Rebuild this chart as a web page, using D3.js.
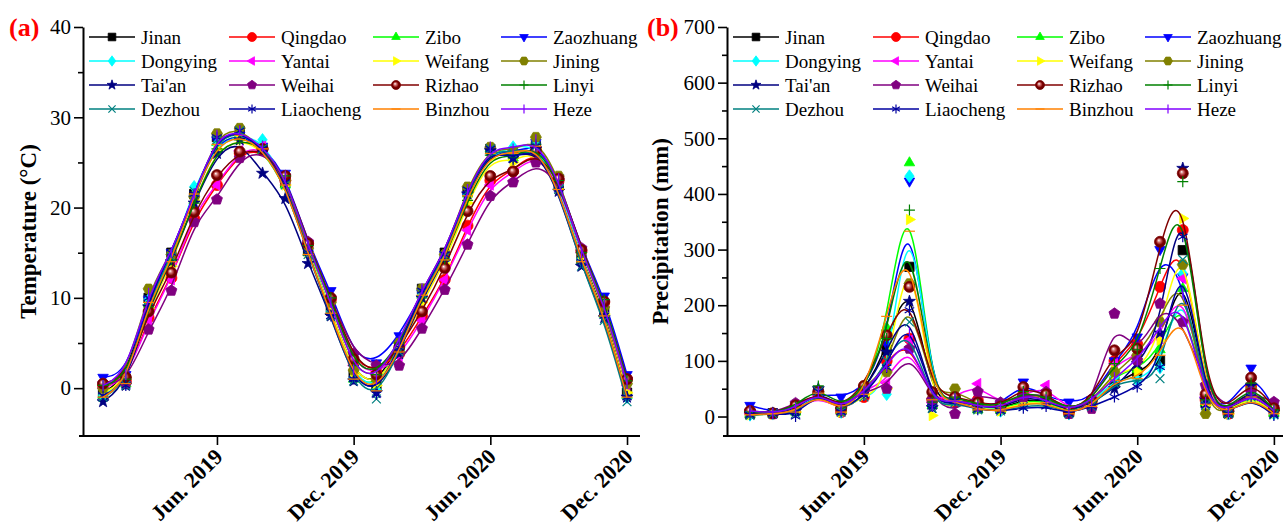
<!DOCTYPE html>
<html>
<head>
<meta charset="utf-8">
<script src="https://cdn.jsdelivr.net/npm/d3@7"></script>
<style>
  body { margin: 0; background: #fff; }
  svg { font-family: "Liberation Serif", "Times New Roman", serif; }
</style>
</head>
<body>
<svg id="chart" width="1287" height="528"></svg>
<script>
// ---- data ----
const cities = ["Jinan", "Qingdao", "Zibo", "Zaozhuang", "Dongying", "Yantai", "Weifang", "Jining",
                "Tai'an", "Weihai", "Rizhao", "Linyi", "Dezhou", "Liaocheng", "Binzhou", "Heze"];
const colors = ["#000000", "#ff0000", "#00ff00", "#0000ff", "#00ffff", "#ff00ff", "#ffff00", "#808000",
                "#000080", "#800080", "#800000", "#008000", "#008080", "#0000a0", "#ff8000", "#8000ff"];
const symbols = ["square", "circle", "triUp", "triDown", "diamond", "triLeft", "triRight", "hexagon",
                 "star", "pentagon", "sphere", "plus", "cross", "asterisk", "hbar", "vbar"];

// month index: 1 = Jan 2019 ... 24 = Dec 2020
const months = [1, 2, 3, 4, 5, 6, 7, 8, 9, 10, 11, 12, 13, 14, 15, 16, 17, 18, 19, 20, 21, 22, 23, 24];
const xTickValues = [6, 12, 18, 24];
const xTickLabels = ["Jun. 2019", "Dec. 2019", "Jun. 2020", "Dec. 2020"];

// temperature (°C)
const tJinan     = [-0.5, 1.0, 10.0, 15.0, 21.5, 27.8, 28.5, 26.5, 22.8, 15.2, 8.6, 1.5, 0.3, 4.8, 11.0, 15.0, 21.8, 26.5, 26.0, 26.8, 22.5, 14.3, 8.5, -0.5];
const tQingdao   = [0.3, 0.8, 7.8, 12.2, 18.8, 22.5, 26.0, 26.5, 23.0, 16.0, 9.8, 2.8, 1.8, 3.8, 8.0, 12.0, 18.0, 23.0, 24.0, 26.5, 23.0, 15.2, 9.5, 1.0];
const tZibo      = [-0.8, 0.5, 9.5, 14.5, 21.5, 27.2, 28.2, 26.3, 22.5, 15.0, 8.5, 1.0, 0.0, 4.5, 10.5, 14.5, 21.5, 26.5, 25.5, 26.8, 22.3, 14.0, 8.2, -0.8];
const tZaozhuang = [1.2, 1.5, 9.8, 15.0, 21.0, 27.5, 28.0, 26.8, 23.8, 16.0, 10.8, 3.5, 2.8, 5.8, 10.5, 14.8, 21.2, 26.3, 26.0, 27.2, 23.3, 15.3, 10.2, 1.5];
const tDongying  = [-0.8, 0.5, 9.8, 14.3, 22.3, 27.0, 28.0, 27.5, 22.8, 15.3, 8.5, 1.2, -0.2, 4.0, 10.5, 14.5, 21.5, 26.0, 26.7, 27.0, 22.5, 14.3, 8.0, -1.0];
const tYantai    = [0.0, 0.8, 7.5, 12.0, 19.5, 22.5, 26.3, 26.8, 23.0, 16.0, 9.8, 2.5, 1.5, 3.5, 7.5, 12.0, 17.5, 22.5, 23.8, 26.0, 22.8, 15.0, 9.0, 0.3];
const tWeifang   = [-0.5, 0.6, 8.8, 13.5, 20.8, 26.5, 27.5, 26.5, 22.5, 15.0, 8.6, 1.5, 0.3, 4.0, 9.5, 13.8, 20.5, 25.5, 25.0, 26.5, 22.0, 14.2, 8.2, -0.5];
const tJining    = [0.0, 1.2, 11.0, 14.8, 21.2, 28.2, 28.8, 26.5, 23.0, 15.5, 9.5, 2.0, 1.0, 5.0, 11.0, 14.8, 22.3, 26.7, 26.2, 27.8, 23.5, 15.0, 9.0, 0.5];
const tTaian     = [-1.5, 0.3, 9.0, 14.0, 20.5, 26.0, 27.5, 23.8, 21.0, 13.8, 8.0, 0.8, -0.5, 3.8, 10.0, 14.0, 21.5, 26.3, 25.5, 26.5, 21.8, 13.5, 7.8, -1.0];
const tWeihai    = [0.5, 0.5, 6.5, 10.8, 18.4, 20.9, 25.5, 26.3, 23.5, 16.2, 10.0, 3.8, 2.5, 2.5, 6.6, 10.9, 15.9, 21.3, 22.8, 25.0, 23.0, 15.5, 9.5, 1.0];
const tRizhao    = [0.5, 1.2, 8.5, 12.8, 19.5, 23.6, 26.2, 26.5, 23.5, 16.0, 10.0, 3.2, 1.5, 4.5, 8.5, 13.3, 19.6, 23.5, 24.0, 26.3, 23.2, 15.3, 9.6, 1.0];
const tLinyi     = [0.3, 1.0, 9.0, 14.2, 20.5, 26.5, 27.5, 26.8, 23.5, 15.8, 10.0, 2.5, 1.5, 5.0, 10.0, 14.3, 20.8, 25.8, 25.5, 27.0, 23.0, 15.0, 9.8, 0.8];
const tDezhou    = [-1.0, 0.3, 9.8, 14.5, 21.8, 27.5, 28.5, 26.5, 22.5, 14.8, 8.0, 0.8, -1.2, 4.0, 10.5, 14.5, 21.8, 26.5, 26.0, 26.8, 22.0, 13.5, 7.5, -1.5];
const tLiaocheng = [-0.8, 0.3, 10.0, 15.0, 21.5, 27.8, 28.5, 26.5, 22.8, 15.0, 8.0, 1.0, -0.7, 4.5, 10.8, 14.8, 22.0, 26.5, 25.3, 26.8, 22.0, 14.0, 8.0, -1.0];
const tBinzhou   = [-1.0, 0.5, 9.5, 14.0, 21.5, 27.0, 28.0, 26.5, 22.5, 14.8, 8.3, 1.0, -0.3, 4.0, 10.3, 14.2, 21.3, 26.0, 26.0, 26.8, 22.0, 14.0, 8.0, -1.0];
const tHeze      = [0.3, 1.5, 10.5, 15.0, 21.5, 28.0, 28.5, 26.8, 23.5, 15.8, 9.5, 2.0, 1.0, 5.2, 11.0, 15.0, 22.0, 26.7, 26.5, 27.5, 23.2, 15.0, 9.3, 0.5];

// precipitation (mm)
const pJinan     = [5, 6, 12, 45, 12, 45, 120, 269, 22, 32, 15, 14, 30, 30, 8, 22, 60, 80, 100, 299, 25, 6, 45, 8];
const pQingdao   = [8, 5, 15, 40, 8, 35, 100, 140, 30, 25, 30, 12, 40, 38, 6, 28, 100, 130, 233, 335, 30, 5, 55, 12];
const pZibo      = [4, 6, 8, 48, 10, 42, 160, 456, 20, 35, 12, 12, 28, 28, 6, 22, 75, 85, 120, 230, 25, 6, 40, 6];
const pZaozhuang = [20, 8, 15, 42, 35, 50, 130, 423, 26, 30, 20, 20, 62, 35, 26, 30, 100, 143, 300, 251, 30, 10, 87, 15];
const pDongying  = [3, 5, 10, 45, 8, 40, 40, 432, 20, 30, 18, 10, 22, 25, 5, 20, 70, 65, 88, 257, 25, 5, 35, 5];
const pYantai    = [6, 5, 12, 38, 10, 50, 60, 137, 25, 35, 59, 20, 38, 56, 8, 30, 95, 110, 140, 248, 35, 8, 45, 10];
const pWeifang   = [3, 4, 8, 42, 8, 38, 50, 354, 2, 28, 15, 10, 25, 25, 5, 20, 83, 80, 137, 356, 20, 5, 40, 6];
const pJining    = [8, 6, 18, 45, 10, 55, 80, 239, 32, 50, 20, 15, 40, 32, 10, 25, 80, 110, 170, 273, 5, 8, 50, 10];
const pTaian     = [5, 6, 10, 50, 12, 45, 116, 207, 16, 30, 18, 15, 35, 30, 8, 25, 50, 95, 150, 446, 30, 6, 55, 8];
const pWeihai    = [10, 5, 24, 40, 12, 48, 50, 122, 30, 5, 45, 25, 35, 44, 5, 14, 185, 101, 203, 170, 56, 10, 45, 26];
const pRizhao    = [10, 6, 20, 45, 15, 55, 146, 233, 44, 35, 25, 18, 53, 40, 10, 30, 119, 122, 314, 437, 40, 10, 70, 15];
const pLinyi     = [8, 6, 18, 55, 15, 50, 140, 371, 26, 35, 22, 18, 45, 35, 12, 28, 95, 120, 266, 422, 30, 8, 60, 12];
const pDezhou    = [2, 5, 5, 45, 8, 35, 100, 170, 15, 25, 12, 10, 18, 22, 5, 18, 60, 65, 68, 282, 20, 5, 35, 3];
const pLiaocheng = [3, 6, 0, 45, 8, 38, 88, 191, 18, 28, 12, 10, 15, 18, 5, 18, 35, 53, 89, 323, 20, 5, 35, 2];
const pBinzhou   = [3, 5, 8, 42, 8, 40, 180, 333, 30, 28, 12, 10, 22, 25, 5, 18, 65, 68, 110, 200, 22, 5, 35, 5];
const pHeze      = [10, 6, 15, 45, 12, 45, 90, 150, 20, 32, 18, 15, 40, 30, 10, 28, 70, 100, 160, 220, 25, 8, 45, 10];

const tempSeries = [tJinan, tQingdao, tZibo, tZaozhuang, tDongying, tYantai, tWeifang, tJining,
                    tTaian, tWeihai, tRizhao, tLinyi, tDezhou, tLiaocheng, tBinzhou, tHeze];
const precSeries = [pJinan, pQingdao, pZibo, pZaozhuang, pDongying, pYantai, pWeifang, pJining,
                    pTaian, pWeihai, pRizhao, pLinyi, pDezhou, pLiaocheng, pBinzhou, pHeze];

// ---- drawing ----
const svg = d3.select("#chart");

const defs = svg.append("defs");
const grad = defs.append("radialGradient").attr("id", "sphere")
  .attr("cx", "50%").attr("cy", "50%").attr("r", "50%").attr("fx", "38%").attr("fy", "35%");
grad.append("stop").attr("offset", "0%").attr("stop-color", "#ffffff");
grad.append("stop").attr("offset", "30%").attr("stop-color", "#d07070");
grad.append("stop").attr("offset", "65%").attr("stop-color", "#800000");
grad.append("stop").attr("offset", "100%").attr("stop-color", "#5a0000");

function poly(n, r, rot) {
  const pts = [];
  for (let i = 0; i < n; i++) {
    const a = rot + i * 2 * Math.PI / n;
    pts.push([r * Math.cos(a), r * Math.sin(a)]);
  }
  return "M" + pts.map(p => p.join(",")).join("L") + "Z";
}

function markerPath(type, r) {
  switch (type) {
    case "square": { const s = r * 0.85; return `M${-s},${-s}H${s}V${s}H${-s}Z`; }
    case "circle":
    case "sphere": return `M${r},0A${r},${r} 0 1,1 ${-r},0A${r},${r} 0 1,1 ${r},0Z`;
    case "triUp": return poly(3, r * 1.1, -Math.PI / 2);
    case "triDown": return poly(3, r * 1.1, Math.PI / 2);
    case "triLeft": return poly(3, r * 1.1, Math.PI);
    case "triRight": return poly(3, r * 1.1, 0);
    case "diamond": return `M0,${-r * 1.15}L${r * 0.85},0L0,${r * 1.15}L${-r * 0.85},0Z`;
    case "hexagon": return poly(6, r, 0);
    case "pentagon": return poly(5, r * 1.05, -Math.PI / 2);
    case "star": {
      const pts = [];
      for (let i = 0; i < 10; i++) {
        const rr = i % 2 ? r * 0.45 : r * 1.15;
        const a = -Math.PI / 2 + i * Math.PI / 5;
        pts.push([rr * Math.cos(a), rr * Math.sin(a)]);
      }
      return "M" + pts.map(p => p.join(",")).join("L") + "Z";
    }
    case "plus": return `M${-r},0H${r}M0,${-r}V${r}`;
    case "cross": { const s = r * 0.8; return `M${-s},${-s}L${s},${s}M${-s},${s}L${s},${-s}`; }
    case "asterisk": {
      const c = r * Math.cos(Math.PI / 6), s = r * Math.sin(Math.PI / 6);
      return `M0,${-r}V${r}M${-c},${-s}L${c},${s}M${-c},${s}L${c},${-s}`;
    }
    case "hbar": return `M${-r},0H${r}`;
    case "vbar": return `M0,${-r}V${r}`;
  }
}
const strokeOnly = new Set(["plus", "cross", "asterisk", "hbar", "vbar"]);

function drawMarker(g, type, color, r) {
  const p = g.append("path").attr("d", markerPath(type, r));
  if (strokeOnly.has(type)) {
    p.attr("fill", "none").attr("stroke", color).attr("stroke-width", 1.2);
  } else if (type === "sphere") {
    p.attr("fill", "url(#sphere)").attr("stroke", color).attr("stroke-width", 0.8);
  } else {
    p.attr("fill", color).attr("stroke", color).attr("stroke-width", 0.8);
  }
  return p;
}

const axisY = 436, axisTop = 27;

function drawPanel(cfg) {
  const x = d3.scaleLinear().domain(cfg.xDomain).range([cfg.x0, cfg.x1]);
  const y = d3.scaleLinear().domain(cfg.yDomain).range([axisY, axisTop]);
  const g = svg.append("g");

  // series
  const line = d3.line().x((d, i) => x(months[i])).y(d => y(d)).curve(d3.curveBasis);
  cfg.series.forEach((vals, k) => {
    g.append("path").attr("d", line(vals))
      .attr("fill", "none").attr("stroke", colors[k]).attr("stroke-width", 1.5);
    vals.forEach((v, i) => {
      const m = g.append("g").attr("transform", `translate(${x(months[i])},${y(v)})`);
      drawMarker(m, symbols[k], colors[k], 5.5);
    });
  });

  // y axis (major + minor)
  g.append("g").attr("transform", `translate(${cfg.x0},0)`)
    .call(d3.axisLeft(y).tickValues(cfg.minor).tickSize(5).tickSizeOuter(0).tickFormat(""))
    .call(a => a.select(".domain").remove());
  const ya = g.append("g").attr("transform", `translate(${cfg.x0},0)`)
    .call(d3.axisLeft(y).tickValues(cfg.major).tickSize(9).tickSizeOuter(0).tickPadding(3));
  ya.selectAll("text").attr("font-size", 21).attr("font-family", "Liberation Serif").attr("fill", "#000");
  g.selectAll(".tick line").attr("stroke-width", 1.6);
  ya.select(".domain").attr("stroke-width", 2);

  // x axis
  const xa = g.append("g").attr("transform", `translate(0,${axisY})`)
    .call(d3.axisBottom(x).tickValues(xTickValues).tickSize(9).tickSizeOuter(0).tickFormat(""));
  xa.select(".domain").attr("stroke-width", 2).attr("d", `M${cfg.x0 - 4},0H${cfg.x1}`);
  xa.selectAll(".tick line").attr("stroke-width", 1.6);
  xTickValues.forEach((v, i) => {
    g.append("text")
      .attr("transform", `translate(${x(v) + 7},${axisY + 22}) rotate(-45)`)
      .attr("text-anchor", "end")
      .attr("font-size", 22).attr("font-weight", "bold")
      .text(xTickLabels[i]);
  });

  // axis title
  g.append("text")
    .attr("transform", `translate(${cfg.titleX},${(axisY + axisTop) / 2}) rotate(-90)`)
    .attr("text-anchor", "middle").attr("dominant-baseline", "central")
    .attr("font-size", 23).attr("font-weight", "bold")
    .text(cfg.title);

  // panel tag
  g.append("text").attr("x", cfg.tagX).attr("y", 36)
    .attr("font-size", 26).attr("font-weight", "bold").attr("fill", "#ff0000")
    .text(cfg.tag);

  // legend
  const colX = [6, 146, 290, 418], rowY = [37, 61, 85, 109];
  cities.forEach((c, k) => {
    const lx = cfg.x0 + colX[k % 4], ly = rowY[Math.floor(k / 4)];
    g.append("line").attr("x1", lx).attr("x2", lx + 46).attr("y1", ly).attr("y2", ly)
      .attr("stroke", colors[k]).attr("stroke-width", 1.5);
    const m = g.append("g").attr("transform", `translate(${lx + 23},${ly})`);
    drawMarker(m, symbols[k], colors[k], 4.5);
    g.append("text").attr("x", lx + 52).attr("y", ly).attr("dy", "0.35em")
      .attr("font-size", 19).text(c);
  });
}

drawPanel({
  x0: 83, x1: 640, xDomain: [0.12, 24.57], yDomain: [-5.3, 40],
  major: [0, 10, 20, 30, 40], minor: [5, 15, 25, 35],
  series: tempSeries, title: "Temperature (°C)", titleX: 28, tag: "(a)", tagX: 9
});
drawPanel({
  x0: 727, x1: 1283, xDomain: [-0.01, 24.4], yDomain: [-35, 700],
  major: [0, 100, 200, 300, 400, 500, 600, 700], minor: [50, 150, 250, 350, 450, 550, 650],
  series: precSeries, title: "Precipitation (mm)", titleX: 660, tag: "(b)", tagX: 647
});
</script>
</body>
</html>
